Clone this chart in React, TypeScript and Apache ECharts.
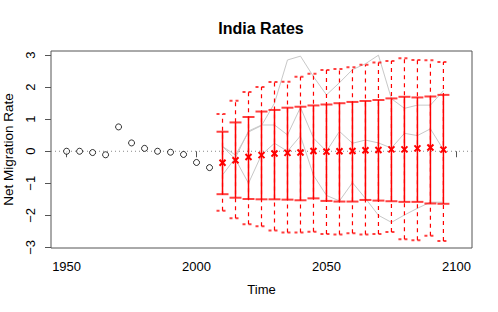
import React, { useEffect, useRef } from "react";
import * as echarts from "echarts";

const histYears = [1950, 1955, 1960, 1965, 1970, 1975, 1980, 1985, 1990, 1995, 2000, 2005];
const histValues = [0, 0, -0.04, -0.11, 0.76, 0.26, 0.09, 0, -0.03, -0.1, -0.35, -0.51];

const projYears = [2010, 2015, 2020, 2025, 2030, 2035, 2040, 2045, 2050, 2055, 2060, 2065, 2070, 2075, 2080, 2085, 2090, 2095];
const median = [-0.36, -0.28, -0.18, -0.12, -0.07, -0.05, -0.04, 0.01, -0.01, 0, 0.01, 0.03, 0.04, 0.06, 0.06, 0.09, 0.12, 0.05];
const low80 = [-1.34, -1.45, -1.49, -1.5, -1.5, -1.51, -1.53, -1.47, -1.55, -1.57, -1.57, -1.52, -1.54, -1.56, -1.58, -1.58, -1.63, -1.64];
const high80 = [0.61, 0.9, 1.07, 1.24, 1.29, 1.36, 1.39, 1.43, 1.46, 1.5, 1.54, 1.57, 1.6, 1.65, 1.7, 1.68, 1.71, 1.76];
const low95 = [-1.86, -2.09, -2.28, -2.34, -2.47, -2.54, -2.54, -2.51, -2.58, -2.6, -2.56, -2.6, -2.58, -2.52, -2.75, -2.78, -2.64, -2.8];
const high95 = [1.16, 1.58, 1.85, 2.01, 2.16, 2.17, 2.33, 2.42, 2.54, 2.57, 2.62, 2.7, 2.77, 2.82, 2.9, 2.85, 2.84, 2.79];

const traj1 = [0.15, -0.12, 0.6, 0.8, 1.5, 2.85, 2.97, 2.33, 1.76, 2.14, 2.55, 2.73, 3.0, 1.64, 1.34, 1.44, 1.44, 1.89];
const traj2 = [-0.74, -0.2, 0.63, 0.82, 0.82, 0.51, 1.37, 0.41, 0.0, 0.62, 0.25, 0.35, 0.26, 0.1, 0.56, 0.49, 0.7, 0.05];
const traj3 = [0.15, -0.25, -1.0, -0.11, 0.25, 0.0, 0.48, -0.75, -1.38, -1.55, -0.98, -1.47, -2.0, -2.22, -1.99, -1.78, -1.59, -1.59];

const xTicks = [1950, 2000, 2050, 2100];
const yTicks = [-3, -2, -1, 0, 1, 2, 3];

const FONT = "'Liberation Sans', Arial, Helvetica, sans-serif";

function barRenderer(dashed: boolean) {
  return (params: any, api: any) => {
    const x = api.value(0);
    const lo = api.coord([x, api.value(1)]);
    const hi = api.coord([x, api.value(2)]);
    const hw = 6;
    const capStyle: any = { stroke: "rgba(255,0,0,0.75)", lineWidth: 2, lineDash: dashed ? [3, 3] : null };
    return {
      type: "group",
      children: [
        {
          type: "line",
          shape: { x1: lo[0], y1: lo[1], x2: hi[0], y2: hi[1] },
          style: { stroke: "#ff0000", lineWidth: dashed ? 1.2 : 1.5, lineDash: dashed ? [4, 4] : null },
        },
        { type: "line", shape: { x1: lo[0] - hw, y1: lo[1], x2: lo[0] + hw, y2: lo[1] }, style: capStyle },
        { type: "line", shape: { x1: hi[0] - hw, y1: hi[1], x2: hi[0] + hw, y2: hi[1] }, style: capStyle },
      ],
    };
  };
}

function crossRenderer(params: any, api: any) {
  const p = api.coord([api.value(0), api.value(1)]);
  const r = 3;
  const st = { stroke: "#ff0000", lineWidth: 2 };
  return {
    type: "group",
    children: [
      { type: "line", shape: { x1: p[0] - r, y1: p[1] - r, x2: p[0] + r, y2: p[1] + r }, style: st },
      { type: "line", shape: { x1: p[0] - r, y1: p[1] + r, x2: p[0] + r, y2: p[1] - r }, style: st },
    ],
  };
}

export default function App() {
  const ref = useRef<HTMLDivElement>(null);
  useEffect(() => {
    document.body.style.margin = "0";
    const chart = echarts.init(ref.current!, undefined, { renderer: "svg" });
    const trajSeries = [traj1, traj2, traj3].map((t) => ({
      type: "line",
      data: projYears.map((y, i) => [y, t[i]]),
      symbol: "none",
      lineStyle: { color: "#c8c8c8", width: 1 },
      silent: true,
      z: 1,
    }));
    chart.setOption({
      animation: false,
      textStyle: { fontFamily: FONT },
      title: {
        text: "India Rates",
        left: 261,
        top: 20,
        padding: 0,
        textAlign: "center",
        textStyle: { fontSize: 16, fontWeight: "bold", color: "#000", fontFamily: FONT },
      },
      grid: {
        left: 51,
        top: 51,
        right: 26,
        bottom: 64,
        show: true,
        borderColor: "#555",
        borderWidth: 1,
        backgroundColor: "transparent",
        containLabel: false,
        outerBoundsMode: "none",
      },
      xAxis: {
        type: "value",
        min: 1944,
        max: 2106,
        name: "Time",
        nameLocation: "middle",
        nameGap: 35,
        nameMoveOverlap: false,
        nameTextStyle: { fontSize: 13, color: "#000", fontFamily: FONT },
        axisLine: { show: false },
        splitLine: { show: false },
        axisTick: { show: true, length: 6, lineStyle: { color: "#555" }, customValues: xTicks },
        axisLabel: {
          fontSize: 13,
          color: "#000",
          margin: 12,
          customValues: xTicks,
          fontFamily: FONT,
          formatter: (v: number) => String(v),
        },
      },
      yAxis: {
        type: "value",
        min: -3.02,
        max: 3.13,
        name: "Net Migration Rate",
        nameLocation: "middle",
        nameRotate: 90,
        nameGap: 36,
        nameMoveOverlap: false,
        nameTextStyle: { fontSize: 13.5, color: "#000", fontFamily: FONT },
        axisLine: { show: false },
        splitLine: { show: false },
        axisTick: { show: true, length: 6, lineStyle: { color: "#555" }, customValues: yTicks },
        axisLabel: {
          fontSize: 13,
          color: "#000",
          rotate: 90,
          margin: 14,
          customValues: yTicks,
          fontFamily: FONT,
          formatter: (v: number) => (v < 0 ? "\u2212" + Math.abs(v) : String(v)),
        },
      },
      series: [
        {
          type: "line",
          data: [
            [1944, 0],
            [2106, 0],
          ],
          symbol: "none",
          lineStyle: { color: "#888", width: 1, type: [1, 3] },
          silent: true,
          z: 0,
        },
        ...trajSeries,
        {
          type: "custom",
          renderItem: barRenderer(true),
          data: projYears.map((y, i) => [y, low95[i], high95[i]]),
          encode: { x: 0, y: [1, 2] },
          z: 2,
        },
        {
          type: "custom",
          renderItem: barRenderer(false),
          data: projYears.map((y, i) => [y, low80[i], high80[i]]),
          encode: { x: 0, y: [1, 2] },
          z: 3,
        },
        {
          type: "custom",
          renderItem: crossRenderer,
          data: projYears.map((y, i) => [y, median[i]]),
          encode: { x: 0, y: 1 },
          z: 4,
        },
        {
          type: "scatter",
          data: histYears.map((y, i) => [y, histValues[i]]),
          symbol: "circle",
          symbolSize: 6,
          itemStyle: { color: "#fff", borderColor: "#000", borderWidth: 1 },
          z: 5,
        },
      ],
    });
    return () => chart.dispose();
  }, []);
  return <div ref={ref} style={{ width: 498, height: 312 }} />;
}
